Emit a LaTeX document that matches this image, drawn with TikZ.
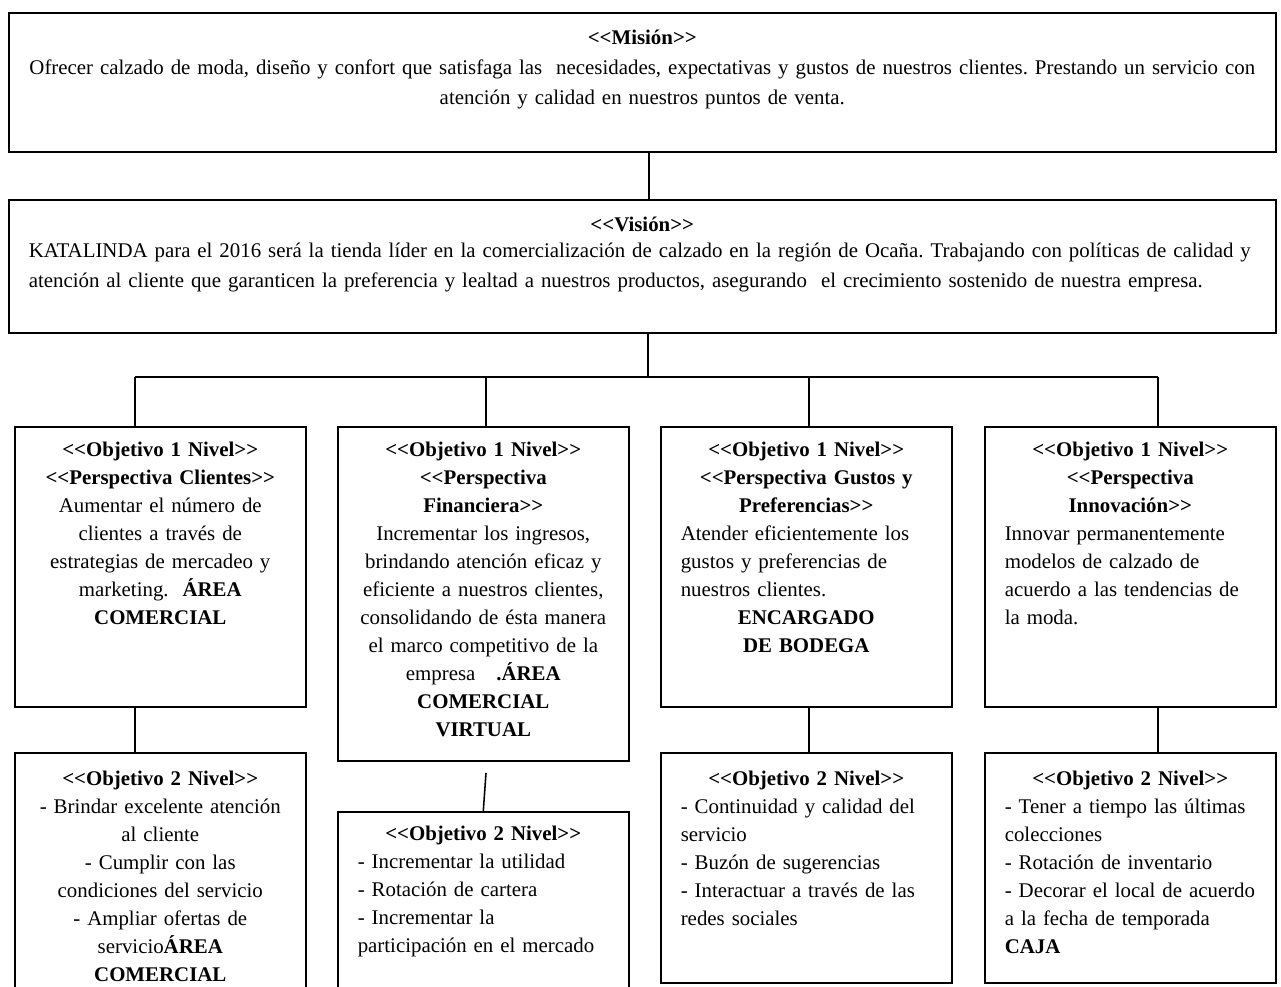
\documentclass[tikz,border=0pt]{standalone}
\usepackage{fontspec}
\setmainfont{Liberation Serif}[Ligatures=TeXOff]
\newlength{\pix}
\setlength{\pix}{0.575pt}
\frenchspacing

\begin{document}
\begin{tikzpicture}[x=\pix, y=-\pix, line width=0.9pt,
  caja/.style={draw, anchor=north west, inner xsep=20\pix, inner ysep=0pt,
    text width=251\pix, font=\fontsize{12}{16.1}\selectfont},
  cajah/.style 2 args={text height=#2*\pix, text depth=(#1-#2)*\pix},
  ancha/.style={text width=1227\pix, font=\fontsize{12}{17.25}\selectfont} ]
  \useasboundingbox (0,0) rectangle (1281,987);

  \node[caja, ancha, cajah={139}{32}] (mision) at (8,12) {\centering
    \textbf{<<Misión>>}\\
    Ofrecer calzado de moda, diseño y confort que satisfaga las\ \ necesidades, expectativas y gustos de nuestros clientes. Prestando un servicio con\\
    atención y calidad en nuestros puntos de venta.\par};
  \node[caja, ancha, cajah={133}{32}] (vision) at (8,199) {%
    {\centering\textbf{<<Visión>>}\par}\vspace{-4\pix}
    \raggedright KATALINDA para el 2016 será la tienda líder en la comercialización de calzado en la región de Ocaña. Trabajando con políticas de calidad y\\
    atención al cliente que garanticen la preferencia y lealtad a nuestros productos, asegurando\ \ el crecimiento sostenido de nuestra empresa.\par};

  % objetivos nivel 1
  \node[caja, cajah={280}{30}] (cli1) at (14,426) {\centering
    \textbf{<<Objetivo 1 Nivel>>}\\ \textbf{<<Perspectiva Clientes>>}\\
    Aumentar el número de\\ clientes a través de\\ estrategias de mercadeo y\\
    marketing.\ \ \textbf{ÁREA}\\ \textbf{COMERCIAL}\par};
  \node[caja, cajah={334}{30}] (fin1) at (337,426) {\centering
    \textbf{<<Objetivo 1 Nivel>>}\\ \textbf{<<Perspectiva}\\ \textbf{Financiera>>}\\
    Incrementar los ingresos,\\ brindando atención eficaz y\\ eficiente a nuestros clientes,\\
    consolidando de ésta manera\\ el marco competitivo de la\\
    empresa\ \ \ \textbf{.ÁREA}\\ \textbf{COMERCIAL}\\ \textbf{VIRTUAL}\par};
  \node[caja, cajah={280}{30}] (gus1) at (660,426) {%
    {\centering\textbf{<<Objetivo 1 Nivel>>}\\ \textbf{<<Perspectiva Gustos y}\\ \textbf{Preferencias>>}\par}
    {\raggedright Atender eficientemente los\\ gustos y preferencias de\\ nuestros clientes.\par}
    {\centering\textbf{ENCARGADO}\\ \textbf{DE BODEGA}\par}};
  \node[caja, cajah={280}{30}] (inn1) at (984,426) {%
    {\centering\textbf{<<Objetivo 1 Nivel>>}\\ \textbf{<<Perspectiva}\\ \textbf{Innovación>>}\par}
    {\raggedright Innovar permanentemente\\ modelos de calzado de\\ acuerdo a las tendencias de\\ la moda.\par}};

  % objetivos nivel 2
  \node[caja, cajah={260}{33}] (cli2) at (14,752) {\centering
    \textbf{<<Objetivo 2 Nivel>>}\\ - Brindar excelente atención\\ al cliente\\
    - Cumplir con las\\ condiciones del servicio\\ - Ampliar ofertas de\\
    servicio\textbf{ÁREA}\\ \textbf{COMERCIAL}\par};
  \node[caja, cajah={230}{29}] (fin2) at (337,811) {%
    {\centering\textbf{<<Objetivo 2 Nivel>>}\par}
    {\raggedright - Incrementar la utilidad\\ - Rotación de cartera\\ - Incrementar la\\ participación en el mercado\par}};
  \node[caja, cajah={230}{33}] (gus2) at (660,752) {%
    {\centering\textbf{<<Objetivo 2 Nivel>>}\par}
    {\raggedright - Continuidad y calidad del\\ servicio\\ - Buzón de sugerencias\\ - Interactuar a través de las\\ redes sociales\par}};
  \node[caja, cajah={230}{33}] (inn2) at (984,752) {%
    {\centering\textbf{<<Objetivo 2 Nivel>>}\par}
    {\raggedright - Tener a tiempo las últimas\\ colecciones\\ - Rotación de inventario\\
    - Decorar el local de acuerdo\\ a la fecha de temporada\\ \textbf{CAJA}\par}};

  % conectores
  \coordinate (bus) at (648,377);
  \coordinate (b1) at (135,377);
  \coordinate (b2) at (486,377);
  \coordinate (b3) at (809,377);
  \coordinate (b4) at (1158,377);
  \coordinate (k1) at (486,773);
  \draw ([xshift=6.5\pix]mision.south) -- ([xshift=6.5\pix]mision.south |- vision.north);
  \draw (vision.south -| bus) -- (bus);
  \draw (b1) -- (b4);
  \foreach \b/\n in {b1/cli1, b2/fin1, b3/gus1, b4/inn1}
    \draw (\b) -- (\b |- \n.north);
  \draw (cli1.south -| b1) -- (cli2.north -| b1);
  \draw (gus1.south -| b3) -- (gus2.north -| b3);
  \draw (inn1.south -| b4) -- (inn2.north -| b4);
  \draw (k1) -- (fin2.north);
\end{tikzpicture}
\end{document}
